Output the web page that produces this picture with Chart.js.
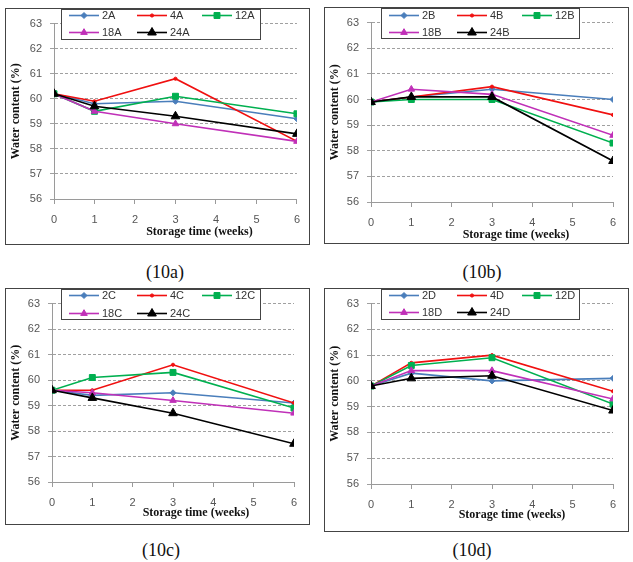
<!DOCTYPE html>
<html><head><meta charset="utf-8">
<script src="https://cdn.jsdelivr.net/npm/chart.js@4/dist/chart.umd.min.js"></script>
<style>
html,body{margin:0;padding:0;background:#fff;}
body{width:633px;height:562px;position:relative;overflow:hidden;}
.frame{position:absolute;border:1px solid #444;box-sizing:border-box;background:#fff;}
.frame canvas{position:absolute;left:0;top:0;}
.cap{position:absolute;font-family:"Liberation Serif","Times New Roman",serif;font-size:18px;color:#111;transform:translate(-50%,-50%);white-space:nowrap;}
</style></head><body>
<div class="frame" style="left:5px;top:8px;width:305px;height:237px;"><canvas id="cA" width="303" height="235"></canvas></div>
<div class="frame" style="left:324px;top:7px;width:305px;height:237px;"><canvas id="cB" width="303" height="235"></canvas></div>
<div class="frame" style="left:5px;top:288px;width:305px;height:237px;"><canvas id="cC" width="303" height="235"></canvas></div>
<div class="frame" style="left:324px;top:288px;width:305px;height:244px;"><canvas id="cD" width="303" height="242"></canvas></div>
<div class="cap" style="left:165px;top:272px;">(10a)</div>
<div class="cap" style="left:482px;top:272px;">(10b)</div>
<div class="cap" style="left:161px;top:550px;">(10c)</div>
<div class="cap" style="left:472px;top:550px;">(10d)</div>
<script>
// ---- data ----
const weeks = [0, 1, 3, 6];
const seriesNames = ['2', '4', '12', '18', '24'];
const yTicks = [56, 57, 58, 59, 60, 61, 62, 63];

const a2 = [60.2, 59.8, 59.9, 59.2];
const a4 = [60.2, 59.9, 60.8, 58.3];
const a12 = [60.2, 59.5, 60.1, 59.4];
const a18 = [60.2, 59.5, 59.0, 58.3];
const a24 = [60.2, 59.7, 59.3, 58.6];

const b2 = [59.9, 60.1, 60.4, 60.0];
const b4 = [59.9, 60.1, 60.5, 59.4];
const b12 = [59.9, 60.0, 60.0, 58.3];
const b18 = [59.9, 60.4, 60.2, 58.6];
const b24 = [59.9, 60.1, 60.1, 57.6];

const c2 = [59.6, 59.4, 59.5, 59.1];
const c4 = [59.6, 59.6, 60.6, 59.1];
const c12 = [59.6, 60.1, 60.3, 58.9];
const c18 = [59.6, 59.5, 59.2, 58.7];
const c24 = [59.6, 59.3, 58.7, 57.5];

const d2 = [59.8, 60.3, 60.0, 60.1];
const d4 = [59.8, 60.7, 61.0, 59.6];
const d12 = [59.8, 60.6, 60.9, 59.1];
const d18 = [59.8, 60.4, 60.4, 59.3];
const d24 = [59.8, 60.1, 60.2, 58.85];

// ---- styles ----
const colors = ['#4A7EBB', '#F01010', '#00B050', '#C030B8', '#000000'];
const styles = ['rectRot', 'circle', 'rect', 'triangle', 'triangle'];
const radii = [3, 1.6, 4.2, 3.8, 5];

function drawMarker(ctx, style, r, x, y, color) {
  ctx.save();
  ctx.fillStyle = color; ctx.strokeStyle = color; ctx.lineWidth = 1;
  ctx.beginPath();
  if (style === 'circle') { ctx.arc(x, y, r, 0, Math.PI * 2); }
  else if (style === 'rect') { const s = r * Math.SQRT1_2; ctx.rect(x - s, y - s, 2 * s, 2 * s); }
  else if (style === 'rectRot') { const s = r; ctx.moveTo(x, y - s); ctx.lineTo(x + s, y); ctx.lineTo(x, y + s); ctx.lineTo(x - s, y); ctx.closePath(); }
  else if (style === 'triangle') {
    ctx.moveTo(x, y - r); ctx.lineTo(x + r * 0.866, y + r * 0.5); ctx.lineTo(x - r * 0.866, y + r * 0.5); ctx.closePath();
  }
  ctx.fill(); ctx.stroke();
  ctx.restore();
}

const boxLegendPlugin = {
  id: 'boxLegend',
  afterDraw(chart, args, o) {
    const ctx = chart.ctx;
    ctx.save();
    ctx.fillStyle = '#fff';
    ctx.fillRect(o.x, o.y, o.w, o.h);
    ctx.strokeStyle = '#444'; ctx.lineWidth = 1;
    ctx.strokeRect(o.x + 0.5, o.y + 0.5, o.w - 1, o.h - 1);
    chart.data.datasets.forEach((ds, i) => {
      const col = i % 3, row = Math.floor(i / 3);
      const lx = o.x + o.cols[col], ly = o.y + o.rows[row] + 0.5;
      ctx.strokeStyle = ds.borderColor; ctx.lineWidth = 1.6;
      ctx.beginPath(); ctx.moveTo(lx, ly); ctx.lineTo(lx + o.len, ly); ctx.stroke();
      drawMarker(ctx, ds.pointStyle, ds.pointRadius, lx + o.len / 2, ly, ds.borderColor);
      ctx.fillStyle = '#333';
      ctx.font = '11px "Liberation Sans", Arial, sans-serif';
      ctx.textAlign = 'left'; ctx.textBaseline = 'middle';
      ctx.fillText(ds.label, lx + o.len + 3, ly);
    });
    ctx.restore();
  }
};

const xTitlePlugin = {
  id: 'xTitle',
  afterDraw(chart, args, o) {
    const ctx = chart.ctx, a = chart.chartArea;
    ctx.save();
    ctx.font = 'bold 12px "Liberation Serif", "Times New Roman", serif';
    ctx.fillStyle = '#111';
    ctx.textAlign = 'center'; ctx.textBaseline = 'middle';
    ctx.fillText(o.text, (a.left + a.right) / 2 + o.dx, a.bottom + o.dy);
    ctx.restore();
  }
};

const tickFont = { family: '"Liberation Sans", Arial, sans-serif', size: 11 };

function makeChart(id, letter, sets, L) {
  new Chart(document.getElementById(id), {
    type: 'line',
    data: {
      datasets: sets.map((vals, i) => ({
        label: seriesNames[i] + letter,
        data: weeks.map((w, j) => ({ x: w, y: vals[j] })),
        borderColor: colors[i],
        backgroundColor: colors[i],
        pointStyle: styles[i],
        pointRadius: radii[i],
        pointBorderWidth: 1,
        borderWidth: 1.6,
        tension: 0,
        order: 5 - i
      }))
    },
    options: {
      responsive: false, animation: false, events: [],
      layout: { padding: { top: L.top, right: L.right, left: 0, bottom: 0 } },
      plugins: {
        legend: { display: false },
        tooltip: { enabled: false },
        boxLegend: L.legend,
        xTitle: { text: 'Storage time (weeks)', dx: L.tdx, dy: L.tdy }
      },
      scales: {
        x: {
          type: 'linear', min: 0, max: 6,
          ticks: { stepSize: 1, font: tickFont, color: '#555', padding: 9, maxRotation: 0 },
          grid: { drawOnChartArea: false, drawTicks: true, tickLength: 5, color: '#9a9a9a' },
          border: { color: '#9a9a9a' },
          afterFit(s) { s.height = L.bottom; }
        },
        y: {
          min: 56, max: 63,
          afterBuildTicks(s) { s.ticks = yTicks.map(v => ({ value: v })); },
          ticks: { font: tickFont, color: '#555', padding: 8 },
          grid: { color: '#a0a0a0', tickLength: 4, tickBorderDash: [] },
          border: { color: '#9a9a9a', dash: [3, 2] },
          title: { display: true, text: 'Water content (%)', color: '#111',
                   font: { family: '"Liberation Serif", "Times New Roman", serif', weight: 'bold', size: 12 },
                   padding: { top: 3, bottom: 0 } },
          afterFit(s) { s.width = L.left; }
        }
      }
    },
    plugins: [boxLegendPlugin, xTitlePlugin]
  });
}

const legendCols = [8, 76, 141];
makeChart('cA', 'A', [a2, a4, a12, a18, a24],
  { left: 48, top: 10, right: 12, bottom: 45, tdx: 24, tdy: 33,
    legend: { x: 55, y: 0, w: 200, h: 31, cols: legendCols, rows: [6, 23], len: 30 } });
makeChart('cB', 'B', [b2, b4, b12, b18, b24],
  { left: 46, top: 10, right: 15, bottom: 41, tdx: 24, tdy: 33,
    legend: { x: 56, y: 0, w: 199, h: 31, cols: legendCols, rows: [7, 24], len: 30 } });
makeChart('cC', 'C', [c2, c4, c12, c18, c24],
  { left: 46, top: 9, right: 15, bottom: 42, tdx: 23, tdy: 31,
    legend: { x: 55, y: 0, w: 200, h: 31, cols: legendCols, rows: [6, 24], len: 30 } });
makeChart('cD', 'D', [d2, d4, d12, d18, d24],
  { left: 46, top: 9, right: 15, bottom: 47, tdx: 20, tdy: 31,
    legend: { x: 56, y: 0, w: 199, h: 31, cols: legendCols, rows: [6, 23], len: 30 } });
</script>
</body></html>
